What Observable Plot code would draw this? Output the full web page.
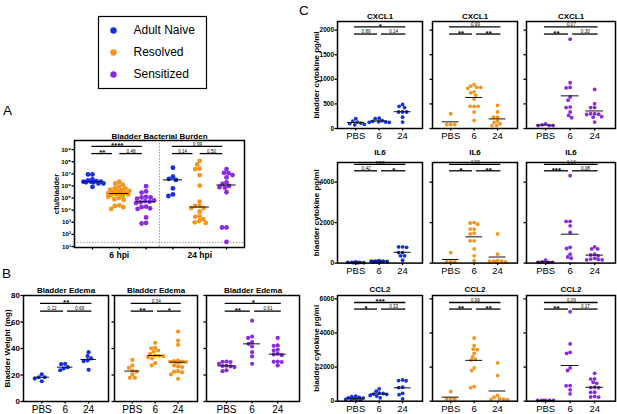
<!DOCTYPE html>
<html><head><meta charset="utf-8">
<script src="https://cdn.jsdelivr.net/npm/d3@7"></script>
<script src="https://cdn.jsdelivr.net/npm/@observablehq/plot@0.6"></script>
<style>
body{margin:0;background:#fff}
#root{position:relative;width:617px;height:414px;overflow:hidden;font-family:"Liberation Sans",Arial,Helvetica,sans-serif;color:#000}
#root svg{position:absolute}
.letter{position:absolute;font-size:13.5px;line-height:1}
</style></head>
<body><div id="root">
<div class="letter" style="left:3px;top:104px">A</div>
<div class="letter" style="left:2px;top:267px">B</div>
<div class="letter" style="left:299px;top:4px">C</div>
</div>
<script>
// ---------- data ----------
const groupNames = ["Adult Naive", "Resolved", "Sensitized"];
const groupColors = ["#1430e6", "#f7941d", "#8a2be2"];
const timeLabels = ["PBS", "6", "24"];
const hpiLabels = ["6 hpi", "24 hpi"];

// Panel A: log10 cfu/bladder, [6 hpi, 24 hpi]
const burdenNaive = [
  [6.95, 6.95, 5.93, 6.35, 6.35, 6.35, 6.3, 6.4, 6.45, 6.54, 6.21, 6.21, 6.3],
  [7.5, 6.76, 6.59, 6.5, 5.8, 5.3, 5.17]
];
const burdenResolved = [
  [6.35, 6.2, 6.1, 5.95, 5.8, 5.8, 5.7, 5.65, 5.6, 5.55, 5.5, 5.45, 5.4, 5.35, 5.3, 5.3, 5.25, 5.2, 5.1, 5.0, 4.9, 4.85, 4.4, 4.35, 4.25, 4.1],
  [8.07, 7.77, 7.43, 7.39, 6.9, 6.02, 4.71, 4.35, 4.35, 4.17, 4.17, 3.89, 3.48, 3.45, 3.26, 3.1, 3.0, 2.95]
];
const burdenSensitized = [
  [5.98, 5.55, 5.45, 5.1, 5.05, 5.05, 4.95, 4.8, 4.75, 4.7, 4.65, 4.6, 4.3, 4.25, 4.15, 4.1, 3.4, 2.95, 2.9],
  [7.39, 7.08, 7.05, 6.9, 6.7, 6.3, 6.16, 6.0, 5.9, 5.86, 5.48, 2.57, 2.57, 1.38]
];
const burdenTicks = [1, 2, 3, 4, 5, 6, 7, 8, 9];
const burdenSig = [["**", "0.48", "****"], ["0.14", "0.50", "0.99"]];
const burdenSigLevels = [8.67, 9.27];
const detectionLimitLog10 = 1.35;

// Panel B: bladder weight (mg), [PBS, 6, 24]
const edemaNaive = [[15.3, 18.3, 18.3, 20.5, 17.3], [23.6, 28.4, 28.2, 24.9, 25.9], [37.2, 34.3, 32.5, 31.0, 30.5, 23.9]];
const edemaResolved = [
  [31.4, 27.2, 25.4, 23.4, 22.5, 20.4, 17.9, 17.9],
  [44.3, 40.5, 40.2, 38.5, 37.7, 36.0, 34.7, 34.5, 34.2, 33.4, 32.6, 28.9, 27.2],
  [52.8, 46.0, 42.8, 30.8, 30.4, 30.2, 30.0, 29.8, 29.7, 29.6, 27.2, 26.5, 26.0, 22.9, 22.5, 22.0, 20.4, 17.1]
];
const edemaSensitized = [
  [30.2, 30.0, 29.8, 28.5, 27.0, 26.8, 26.5, 26.0, 23.5, 22.9],
  [61, 49, 48, 44.8, 43.5, 41.5, 37.2, 34, 28.5],
  [48, 42.3, 42.0, 39, 38.5, 36, 35.5, 35, 30.2, 30.0, 29.8, 27.2]
];
const edemaTicks = [0, 20, 40, 60, 80];
const edemaSig = [["0.12", "0.69", "**"], ["**", "*", "0.34"], ["**", "0.61", "*"]];
const edemaSigLevels = [68.2, 74];

// Panel C: bladder cytokine pg/ml, [PBS, 6, 24]
const cxcl1Naive = [[200, 150, 130, 110, 85, 75, 100], [210, 200, 160, 145, 135, 130, 125, 125], [490, 450, 425, 335, 335, 335, 230, 130]];
const cxcl1Resolved = [[300, 80, 80, 80], [890, 860, 815, 725, 835, 835, 745, 675, 600, 450, 450, 450, 335, 165], [470, 335, 230, 230, 150, 60, 60, 95, 125]];
const cxcl1Sensitized = [[60, 95, 60, 75, 60], [1815, 930, 835, 825, 640, 575, 435, 425, 335, 265, 220], [795, 505, 425, 425, 300, 290, 300, 285, 230, 240, 130]];
const il6Naive = [[40, 20, 60, 40, 20, 40, 20], [120, 100, 80, 60, 100, 80, 60, 100], [800, 780, 800, 520, 520, 360, 360, 140]];
const il6Resolved = [[520, 80, 60, 60], [1920, 2000, 1980, 1680, 1680, 1440, 1480, 1100, 1100, 700, 360, 120], [1440, 440, 120, 100, 80, 60, 60, 100]];
const il6Sensitized = [[40, 140, 40, 40, 60], [4320, 1840, 2060, 2060, 1520, 780, 720, 440, 240, 300], [800, 700, 700, 440, 400, 360, 160, 160, 180, 240, 200]];
const ccl2Naive = [[180, 220, 300, 150, 100, 260, 80, 200, 120, 60], [333, 585, 725, 400, 420, 468, 450, 200, 300], [1210, 1250, 1200, 820, 800, 460, 380, 140]];
const ccl2Resolved = [[567, 130, 120, 130], [3708, 3257, 3023, 3050, 2807, 2614, 2421, 2450, 1953, 1795, 860, 784], [2246, 1503, 234, 333, 100, 120, 90, 150]];
const ccl2Sensitized = [[40, 50, 40, 45, 40, 50], [5246, 3357, 2865, 2800, 1953, 1800, 918, 900, 667, 433], [1637, 1310, 1300, 1111, 1050, 819, 800, 790, 526, 520, 275, 250, 240]];
const cxcl1Ticks = [0, 500, 1000, 1500, 2000];
const il6Ticks = [0, 2000, 4000];
const ccl2Ticks = [0, 2000, 4000, 6000];
const cxcl1Sig = [["0.89", "0.14", "*"], ["**", "**", "0.99"], ["**", "0.30", "0.07"]];
const il6Sig = [["0.42", "*", "***"], ["*", "**", "0.99"], ["***", "0.08", "0.16"]];
const ccl2Sig = [["*", "0.33", "***"], ["**", "**", "0.99"], ["**", "0.17", "0.09"]];

// ---------- drawing ----------
const FONT = '"Liberation Sans", Arial, Helvetica, sans-serif';
const root = document.getElementById("root");
const SUP = {"0":"⁰","1":"¹","2":"²","3":"³","4":"⁴","5":"⁵","6":"⁶","7":"⁷","8":"⁸","9":"⁹"};

function swarm(py, D, maxW) {
  const order = py.map((_, i) => i).sort((a, b) => py[a] - py[b] || a - b);
  const placed = [], off = new Array(py.length).fill(0);
  for (const i of order) {
    const y = py[i];
    const near = placed.filter(p => Math.abs(p.y - y) < D);
    let best = 0, bestScore = -Infinity;
    const n = Math.round(2 * maxW / 0.5);
    for (let k = 0; k <= n; k++) {
      const c = (k % 2 ? -1 : 1) * Math.ceil(k / 2) * 0.5;
      const dmin = near.length ? Math.min(...near.map(p => Math.hypot(p.x - c, p.y - y))) : Infinity;
      if (dmin >= D) { best = c; bestScore = Infinity; break; }
      if (dmin > bestScore + 0.3) { bestScore = dmin; best = c; }
    }
    placed.push({x: best, y}); off[i] = best;
  }
  return off;
}

function panel(o) {
  const pxX = o.fw / (o.xDomain[1] - o.xDomain[0]);
  const pxY = o.fh / (o.yDomain[1] - o.yDomain[0]);
  const dots = [], centers = [], bars = [];
  for (const g of o.groups) {
    const off = swarm(g.values.map(v => -v * pxY), o.D, o.maxW);
    g.values.forEach((v, i) => dots.push({x: g.x + off[i] / pxX, y: v, color: g.color}));
    centers.push({x: g.x, y: o.center(g.values)});
  }
  const [k0, k1, k2, k3] = o.sigInset;
  for (const s of o.sig) {
    const [a, b, c] = s.xs;
    bars.push({x1: a + k0, x2: b + k1, y: o.sigLevels[0], label: s.labels[0]},
              {x1: b + k2, x2: c + k3, y: o.sigLevels[0], label: s.labels[1]},
              {x1: a + k0, x2: c + k3, y: o.sigLevels[1], label: s.labels[2]});
  }
  const star = d => d.label.includes("*");
  const mid = d => (d.x1 + d.x2) / 2;
  const marks = [
    ...(o.under || []),
    Plot.axisY({ticks: o.yTicks, tickFormat: o.yTickFormat || (() => ""), tickSize: 2.5, tickPadding: 1,
      fontSize: o.yFont || 8, fontWeight: "bold", label: null, strokeWidth: 1.3}),
    Plot.axisX({ticks: o.xTicks, tickFormat: o.xTickFormat || (() => ""), tickSize: 2.5, tickPadding: 1.5,
      fontSize: o.xFont || 10, label: null, strokeWidth: 1.3}),
    Plot.dot(dots, {x: "x", y: "y", r: o.r, fill: "color"}),
    Plot.ruleY(centers, {y: "y", x1: d => d.x - o.halfW, x2: d => d.x + o.halfW, stroke: "#111", strokeWidth: 1}),
    Plot.ruleY(bars, {y: "y", x1: "x1", x2: "x2", stroke: "#000", strokeWidth: 1.3}),
    Plot.text(bars.filter(star), {x: mid, y: "y", text: "label", fontSize: 8, fontWeight: "bold", lineAnchor: "bottom", dy: 1.8}),
    Plot.text(bars.filter(d => !star(d)), {x: mid, y: "y", text: "label", fontSize: 4.6, lineAnchor: "bottom", dy: -0.8}),
    Plot.frame({stroke: "#000", strokeWidth: 1.5}),
    Plot.text([o.title], {frameAnchor: "top", dy: o.titleDy, text: d => d, fontSize: 8, fontWeight: "bold"}),
    ...(o.over || [])
  ];
  if (o.yTitle) marks.push(Plot.text([o.yTitle], {frameAnchor: "left", dx: -o.yTitleOffset, rotate: -90, textAnchor: "middle",
    text: d => d, fontSize: o.yTitleFont || 8, fontWeight: "bold"}));
  const svg = Plot.plot({
    width: o.ml + o.fw + o.mr, height: o.mt + o.fh + o.mb,
    marginLeft: o.ml, marginRight: o.mr, marginTop: o.mt, marginBottom: o.mb,
    x: {domain: o.xDomain, axis: null}, y: {domain: o.yDomain, axis: null},
    style: {background: "transparent", fontFamily: FONT, overflow: "visible", position: "absolute",
      left: (o.left - o.ml) + "px", top: (o.top - o.mt) + "px", maxWidth: "none"},
    marks
  });
  root.appendChild(svg);
}

// Legend
root.appendChild(Plot.plot({
  width: 108, height: 72, margin: 0,
  x: {domain: [0, 1], axis: null},
  y: {type: "point", domain: groupNames, padding: 0.6, axis: null},
  color: {domain: groupNames, range: groupColors},
  style: {background: "transparent", fontFamily: FONT, overflow: "visible", position: "absolute", left: "98px", top: "16px", maxWidth: "none"},
  marks: [
    Plot.frame({stroke: "#000", strokeWidth: 1.2}),
    Plot.dot(groupNames, {y: d => d, frameAnchor: "left", dx: 15, r: 3.2, fill: d => d}),
    Plot.text(groupNames, {y: d => d, frameAnchor: "left", dx: 35, text: d => d, textAnchor: "start", fontSize: 12})
  ]
}));

// Panel A
const burdenCohorts = [burdenNaive, burdenResolved, burdenSensitized];
const aGroups = [];
for (let t = 0; t < 2; t++) for (let c = 0; c < 3; c++) aGroups.push({x: t * 3 + c, values: burdenCohorts[c][t], color: groupColors[c]});
panel({
  left: 74, top: 140, fw: 170, fh: 107, ml: 45, mr: 4, mt: 18, mb: 22,
  xDomain: [-0.67, 5.67], yDomain: [0.92, 9.75],
  groups: aGroups, center: d3.median, r: 2.4, D: 4.3, maxW: 11, halfW: 0.36,
  sig: burdenSig.map((labels, t) => ({xs: [t * 3, t * 3 + 1, t * 3 + 2], labels})),
  sigLevels: burdenSigLevels, sigInset: [-0.02, -0.25, 0.02, -0.14],
  title: "Bladder Bacterial Burden", titleDy: -7,
  yTicks: burdenTicks, yTickFormat: d => "10" + String(d).split("").map(ch => SUP[ch]).join(""), yFont: 6.2,
  xTicks: d3.range(6),
  yTitle: "cfu/bladder", yTitleOffset: 18, yTitleFont: 7.5,
  under: [
    Plot.ruleX([2.5], {stroke: "#999", strokeDasharray: "1.5,1.5", strokeWidth: 1}),
    Plot.ruleY([detectionLimitLog10], {stroke: "#999", strokeDasharray: "1.5,1.5", strokeWidth: 1})
  ],
  over: [Plot.text(hpiLabels, {x: (d, i) => i * 3 + 1, frameAnchor: "bottom", dy: 10.5, text: d => d, fontSize: 8.5, fontWeight: "bold"})]
});

// Panel B
const edemaCohorts = [edemaNaive, edemaResolved, edemaSensitized];
const bFrames = [[23, 85], [114, 83], [206, 93]];
edemaCohorts.forEach((cohort, c) => {
  panel({
    left: bFrames[c][0], top: 295, fw: bFrames[c][1], fh: 106, ml: c === 0 ? 23 : 4, mr: 3, mt: 14, mb: 15,
    xDomain: [-0.78, 2.85], yDomain: [0, 80],
    groups: cohort.map((values, t) => ({x: t, values, color: groupColors[c]})),
    center: d3.median, r: 2.1, D: 3.9, maxW: 10, halfW: 0.33,
    sig: [{xs: [0, 1, 2], labels: edemaSig[c]}], sigLevels: edemaSigLevels, sigInset: [-0.05, -0.07, 0.1, 0.14],
    title: "Bladder Edema", titleDy: -8,
    yTicks: edemaTicks, yTickFormat: c === 0 ? (d => String(d)) : null, yFont: 8,
    xTicks: [0, 1, 2], xTickFormat: i => timeLabels[i], xFont: 10,
    yTitle: c === 0 ? "Bladder Weight (mg)" : null, yTitleOffset: 16
  });
});

// Panel C
const cRows = [
  {name: "CXCL1", cohorts: [cxcl1Naive, cxcl1Resolved, cxcl1Sensitized], ticks: cxcl1Ticks, sig: cxcl1Sig,
   top: 21, fh: 107, yDomain: [0, 2175], levels: [1920, 2065], titleDy: -8.5},
  {name: "IL6", cohorts: [il6Naive, il6Resolved, il6Sensitized], ticks: il6Ticks, sig: il6Sig,
   top: 161.7, fh: 100.6, yDomain: [0, 4970], levels: [4560, 4880], titleDy: -13.5},
  {name: "CCL2", cohorts: [ccl2Naive, ccl2Resolved, ccl2Sensitized], ticks: ccl2Ticks, sig: ccl2Sig,
   top: 295, fh: 105.7, yDomain: [0, 6200], levels: [5404, 5789], titleDy: -9}
];
const cFrames = [[337, 85], [432, 85], [526, 89]];
cRows.forEach(row => {
  row.cohorts.forEach((cohort, c) => {
    panel({
      left: cFrames[c][0], top: row.top, fw: cFrames[c][1], fh: row.fh, ml: c === 0 ? 30 : 4, mr: 2, mt: 18, mb: 14,
      xDomain: [-0.78, 2.85], yDomain: row.yDomain,
      groups: cohort.map((values, t) => ({x: t, values, color: groupColors[c]})),
      center: d3.mean, r: 1.9, D: 3.6, maxW: 10, halfW: 0.36,
      sig: [{xs: [0, 1, 2], labels: row.sig[c]}], sigLevels: row.levels, sigInset: [-0.05, -0.07, 0.1, 0.14],
      title: row.name, titleDy: row.titleDy,
      yTicks: row.ticks, yTickFormat: c === 0 ? (d => String(d)) : null, yFont: 6.5,
      xTicks: [0, 1, 2], xTickFormat: i => timeLabels[i], xFont: 9.5,
      yTitle: c === 0 ? "bladder cytokine pg/ml" : null, yTitleOffset: 21
    });
  });
});
</script>
</body></html>
